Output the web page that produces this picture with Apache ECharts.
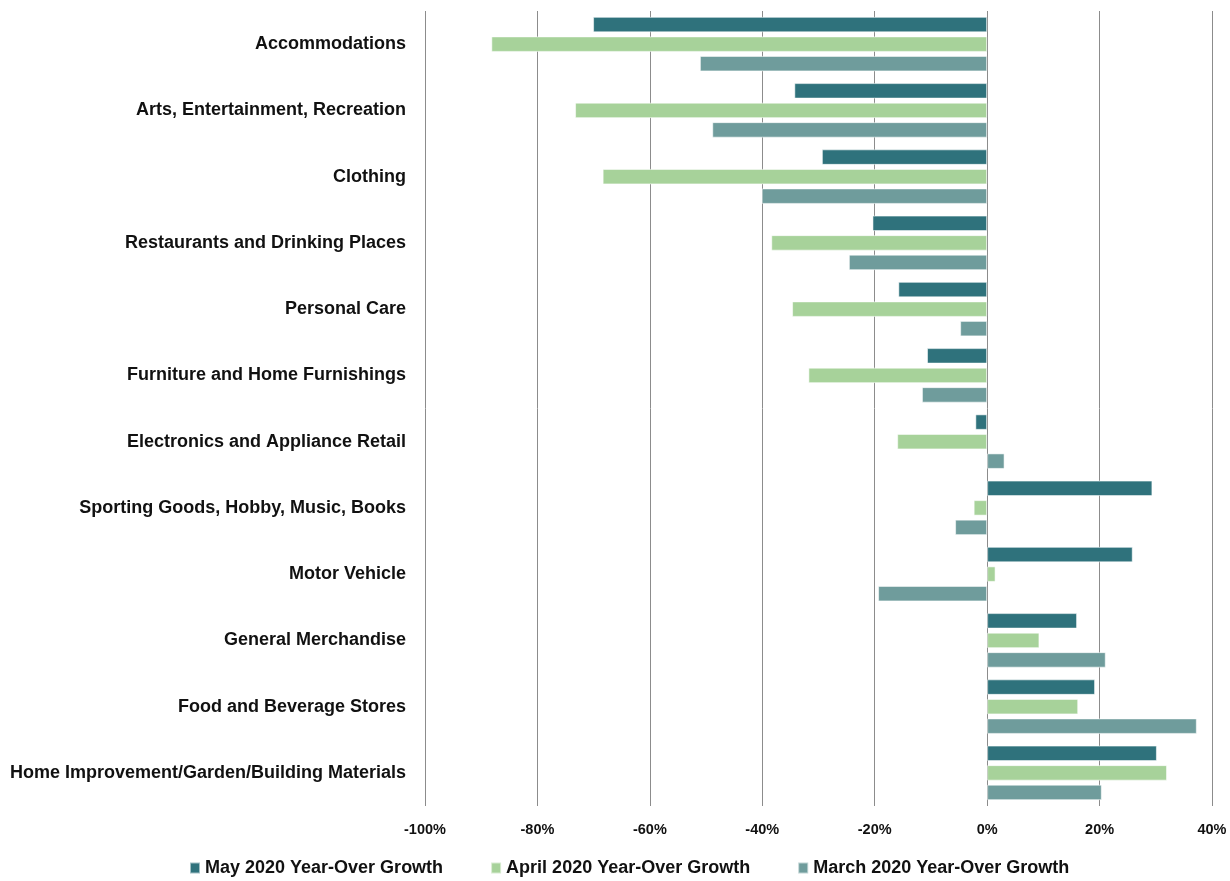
<!DOCTYPE html>
<html>
<head>
<meta charset="utf-8">
<script src="https://cdn.jsdelivr.net/npm/echarts@6/dist/echarts.min.js"></script>
<style>
html,body{margin:0;padding:0;background:#fff;}
#chart{width:1230px;height:881px;}
</style>
</head>
<body>
<div id="chart"></div>
<script>
const categories = [
  'Accommodations',
  'Arts, Entertainment, Recreation',
  'Clothing',
  'Restaurants and Drinking Places',
  'Personal Care',
  'Furniture and Home Furnishings',
  'Electronics and Appliance Retail',
  'Sporting Goods, Hobby, Music, Books',
  'Motor Vehicle',
  'General Merchandise',
  'Food and Beverage Stores',
  'Home Improvement/Garden/Building Materials'
];
const seriesNames = ['May 2020 Year-Over Growth', 'April 2020 Year-Over Growth', 'March 2020 Year-Over Growth'];
const may2020   = [-70.1, -34.3, -29.4, -20.4, -15.8, -10.7, -2.1, 29.4, 25.9, 16.0, 19.2, 30.2];
const april2020 = [-88.2, -73.3, -68.4, -38.4, -34.7, -31.8, -16.0, -2.4, 1.5, 9.3, 16.2, 32.0];
const march2020 = [-51.1, -48.9, -40.1, -24.6, -4.8, -11.6, 3.1, -5.7, -19.4, 21.1, 37.3, 20.4];
const xTicks = { min: -100, max: 40, interval: 20 };

const colors = ['#2f727c', '#a7d29a', '#6f9c9c'];
const FONT = '"Liberation Sans", Arial, sans-serif';

const chart = echarts.init(document.getElementById('chart'), null, {renderer: 'canvas'});
const mk = (name, data, color) => ({
  name: name,
  type: 'bar',
  data: data,
  barWidth: 15.5,
  barGap: '26%',
  itemStyle: { color: color, borderColor: 'rgba(255,255,255,0.55)', borderWidth: 1 },
  emphasis: { disabled: true },
  animation: false
});
chart.setOption({
  animation: false,
  color: colors,
  grid: { left: 425, right: 18, top: 11, bottom: 75, containLabel: false, outerBoundsMode: 'none' },
  legend: {
    data: seriesNames,
    left: 184,
    top: 854,
    itemWidth: 10,
    itemHeight: 11,
    itemGap: 47,
    icon: 'rect',
    textStyle: { fontFamily: FONT, fontWeight: 'bold', fontSize: 18, color: '#111' }
  },
  xAxis: {
    type: 'value',
    min: xTicks.min,
    max: xTicks.max,
    interval: xTicks.interval,
    axisLine: { show: false },
    axisTick: { show: false },
    splitLine: { show: true, lineStyle: { color: '#8c8c8c', width: 1 } },
    axisLabel: {
      formatter: '{value}%',
      margin: 16,
      fontFamily: FONT,
      fontWeight: 'bold',
      fontSize: 14.5,
      color: '#111'
    }
  },
  yAxis: {
    type: 'category',
    data: categories,
    inverse: true,
    axisLine: { show: false },
    axisTick: { show: false },
    splitLine: { show: false },
    axisLabel: {
      margin: 19,
      fontFamily: FONT,
      fontWeight: 'bold',
      fontSize: 18,
      color: '#111'
    }
  },
  series: [
    mk(seriesNames[0], may2020, colors[0]),
    mk(seriesNames[1], april2020, colors[1]),
    mk(seriesNames[2], march2020, colors[2])
  ]
});
</script>
</body>
</html>
